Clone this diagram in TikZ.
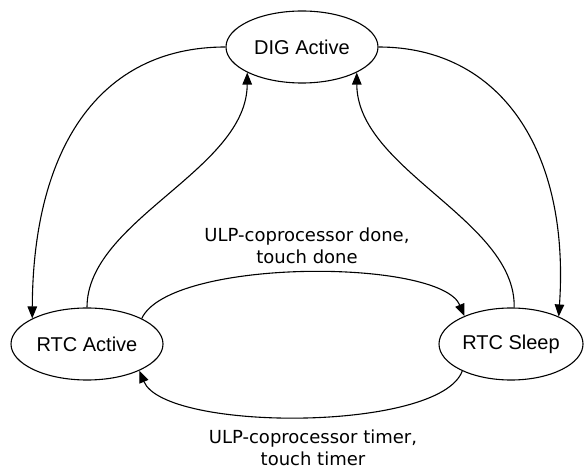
\documentclass[tikz,border=0pt]{standalone}
\usepackage{fontspec}
\setmainfont{Liberation Sans}
\newfontfamily\edgefont{DejaVu Sans}
\usetikzlibrary{shapes.geometric,arrows.meta}

\begin{document}
\begin{tikzpicture}[x=1pt,y=-1pt,
    state/.style={draw, ellipse, line width=1.1pt, inner sep=0pt,
      minimum width=152pt, minimum height=72pt, font=\fontsize{20}{24}\selectfont},
    trans/.style={line width=1.1pt, -{Triangle[length=12pt,width=9.5pt]}},
    edgelbl/.style={align=center, font=\edgefont\fontsize{18}{22}\selectfont}]
  \useasboundingbox (0,0) rectangle (584,470);
  \node[state] (dig) at (302,47) {DIG Active};
  \node[state] (rtcact) at (87,344) {RTC Active};
  \node[state, minimum width=144pt] (rtcslp) at (511,344) {RTC Sleep};
  % wake up and go back to sleep
  \draw[trans] (dig.west) .. controls (98,47) and (33,150) .. (rtcact.155);
  \draw[trans] (rtcact.north) .. controls (87,220) and (247,170) .. (dig.205);
  \draw[trans] (dig.east) .. controls (500,47) and (570,150) .. (rtcslp.30);
  \draw[trans] (rtcslp.85) .. controls (516,220) and (357,170) .. (dig.335);
  % between the two RTC states
  \draw[trans] (rtcact.25) .. controls (170,258) and (440,258) .. (rtcslp.149);
  \draw[trans] (rtcslp.209) .. controls (440,432) and (165,432) .. (rtcact.-27);
  \node[edgelbl] (donelbl) at (307,246) {ULP-coprocessor done,\\touch done};
  \node[edgelbl] (timerlbl) at (313,448) {ULP-coprocessor timer,\\touch timer};
\end{tikzpicture}
\end{document}
